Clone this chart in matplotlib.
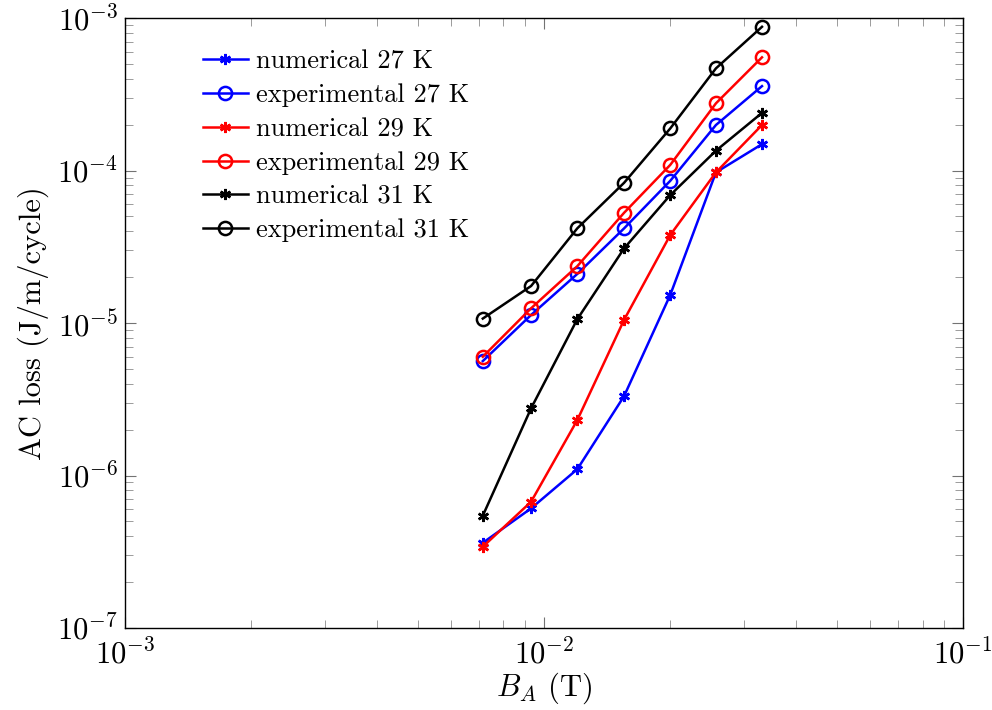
import numpy as np
import matplotlib
matplotlib.use("Agg")
import matplotlib.pyplot as plt

plt.rcParams["font.family"] = ["cmr10", "DejaVu Serif"]
plt.rcParams["mathtext.fontset"] = "cm"
plt.rcParams["axes.formatter.use_mathtext"] = True

b_field = [0.00714, 0.00931, 0.0120, 0.01552, 0.0200, 0.0257, 0.0331]

num_27 = [3.62e-7, 6.09e-7, 1.10e-6, 3.32e-6, 1.53e-5, 9.73e-5, 1.49e-4]
exp_27 = [5.63e-6, 1.13e-5, 2.10e-5, 4.18e-5, 8.57e-5, 1.99e-4, 3.58e-4]
num_29 = [3.41e-7, 6.73e-7, 2.31e-6, 1.05e-5, 3.78e-5, 9.73e-5, 1.99e-4]
exp_29 = [6.01e-6, 1.25e-5, 2.36e-5, 5.29e-5, 1.09e-4, 2.76e-4, 5.53e-4]
num_31 = [5.45e-7, 2.76e-6, 1.06e-5, 3.09e-5, 6.91e-5, 1.35e-4, 2.39e-4]
exp_31 = [1.07e-5, 1.75e-5, 4.18e-5, 8.32e-5, 1.89e-4, 4.68e-4, 8.77e-4]

series = [
    ("numerical 27 K", num_27, "blue", "num"),
    ("experimental 27 K", exp_27, "blue", "exp"),
    ("numerical 29 K", num_29, "red", "num"),
    ("experimental 29 K", exp_29, "red", "exp"),
    ("numerical 31 K", num_31, "black", "num"),
    ("experimental 31 K", exp_31, "black", "exp"),
]

fig = plt.figure(figsize=(9.92, 7.10), dpi=100)
ax = fig.add_axes([0.126, 0.1155, 0.845, 0.859])

for label, vals, color, kind in series:
    if kind == "num":
        ax.plot(b_field, vals, color=color, lw=1.8, marker=(6, 2, 0), ms=8,
                mew=1.8, label=label)
    else:
        ax.plot(b_field, vals, color=color, lw=1.8, marker="o", ms=9.5,
                mfc="none", mew=1.8, label=label)

ax.set_xscale("log")
ax.set_yscale("log")
ax.set_xlim(1e-3, 1e-1)
ax.set_ylim(1e-7, 1e-3)

ax.tick_params(which="both", direction="in", top=True, right=True)
ax.tick_params(which="major", length=8, width=0.8, color="0.45", labelsize=22, pad=5)
ax.tick_params(which="minor", length=5.5, width=0.6, color="0.55")
ax.tick_params(axis="x", which="major", pad=8)
for s in ax.spines.values():
    s.set_linewidth(1.0)

ax.set_xlabel(r"$B_A$ (T)", fontsize=22, labelpad=0)
ax.set_ylabel("AC loss (J/m/cycle)", fontsize=22, labelpad=6)

ax.legend(loc="upper left", bbox_to_anchor=(0.093, 0.948), frameon=False,
          borderpad=0, borderaxespad=0,
          fontsize=19, handlelength=1.7, handletextpad=0.3, labelspacing=0.38)

fig.savefig("out.png", dpi=100)
